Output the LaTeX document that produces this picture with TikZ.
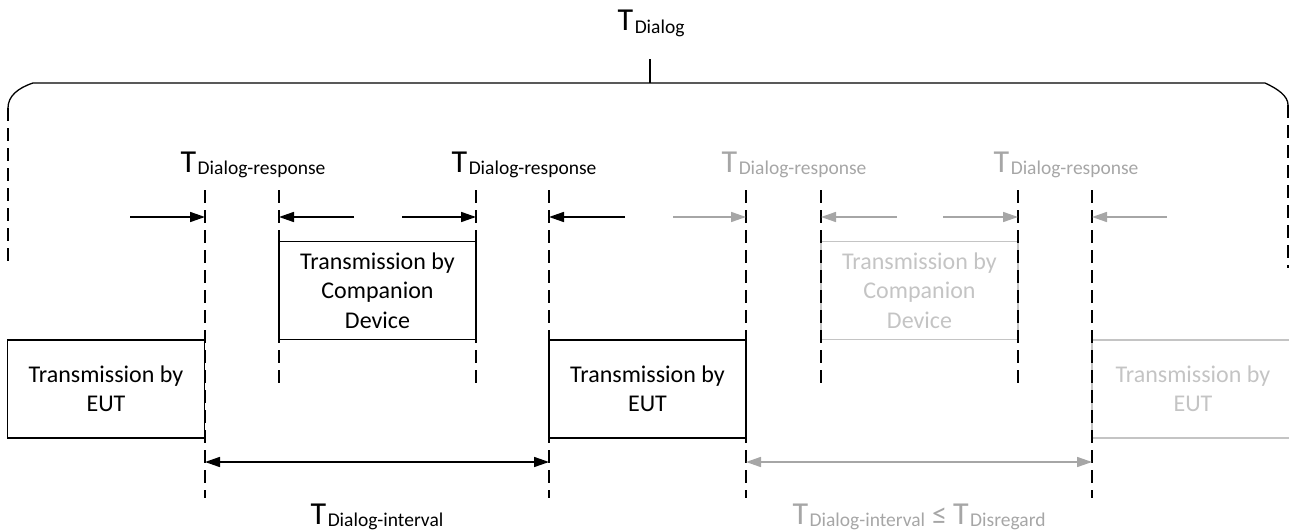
\documentclass[tikz,border=0pt]{standalone}
\usepackage{fontspec}
\setmainfont{Carlito}
\usetikzlibrary{arrows.meta}
\definecolor{garrow}{HTML}{A6A6A6}
\definecolor{gtext}{HTML}{C4C4C4}
\definecolor{gline}{HTML}{C4C4C4}
\newcommand\TL[1]{{\fontsize{32}{32}\selectfont T}\kern1.5pt\raisebox{-2.5pt}{\fontsize{19.5}{20}\selectfont #1}}
\begin{document}
\begin{tikzpicture}[x=1pt,y=-1pt,line width=1.3pt,
  txbox/.style={draw, minimum width=197pt, minimum height=98pt, inner sep=0pt, align=center, font=\fontsize{24}{29.5}\selectfont},
  graybox/.style={txbox, draw=gline, text=gtext},
  guide/.style={line width=1.3pt, dash pattern=on 13pt off 7pt},
  dim/.style={line width=1.6pt, -{Triangle[length=15pt,width=10pt]}},
  ddim/.style={line width=1.6pt, {Triangle[length=15pt,width=10pt]}-{Triangle[length=15pt,width=10pt]}},
  lbl/.style={inner sep=0pt},
]
\useasboundingbox (0,0) rectangle (1289,532);
\begin{scope}
\clip (0,0) rectangle (1289,532);
% boxes
\node[txbox] (eut1) at (106,389) {Transmission by\\EUT};
\node[txbox] (cmp1) at (377.5,290.5) {Transmission by\\Companion\\Device};
\node[txbox] (eut2) at (647.5,389) {Transmission by\\EUT};
\node[graybox] (cmp2) at (919.5,290.5) {Transmission by\\Companion\\Device};
\node[graybox, minimum width=202pt] (eut3) at (1193,389) {Transmission by\\EUT};

% brace over the dialog
\coordinate (bl) at (8,268);
\coordinate (blc) at (8,108);
\coordinate (tl) at (33,83);
\coordinate (tr) at (1265,83);
\coordinate (brc) at (1288,105);
\coordinate (br) at (1288,268);
\coordinate (tick) at (650,83);
\coordinate (ticktop) at (650,59);
\draw (blc) .. controls (8,96) and (18,88) .. (tl) -- (tr) .. controls (1278,89) and (1288,96) .. (brc);
\draw[guide] (blc) -- (bl);
\draw[guide] (brc) -- (br);
\draw (tick) -- (ticktop);
\node[lbl, anchor=base west] (tdialog) at (617,31) {\TL{Dialog}};

% guide lines
\coordinate (gAt) at (205,190); \coordinate (gAb) at (205,498);
\coordinate (gBt) at (279,190); \coordinate (gBb) at (279,388);
\coordinate (gCt) at (476,190); \coordinate (gCb) at (476,388);
\coordinate (gDt) at (549,190); \coordinate (gDb) at (549,498);
\coordinate (gEt) at (746,190); \coordinate (gEb) at (746,498);
\coordinate (gFt) at (821,190); \coordinate (gFb) at (821,388);
\coordinate (gGt) at (1018,190); \coordinate (gGb) at (1018,388);
\coordinate (gHt) at (1092,190); \coordinate (gHb) at (1092,498);
\draw[guide] (gAt) -- (gAb);
\draw[guide] (gBt) -- (gBb);
\draw[guide] (gCt) -- (gCb);
\draw[guide] (gDt) -- (gDb);
\draw[guide] (gEt) -- (gEb);
\draw[guide] (gFt) -- (gFb);
\draw[guide] (gGt) -- (gGb);
\draw[guide] (gHt) -- (gHb);

% response arrows
\coordinate (aA) at (205,217); \coordinate (s1) at (130,217);
\coordinate (aB) at (279,217); \coordinate (s2) at (354,217);
\coordinate (aC) at (476,217); \coordinate (s3) at (402,217);
\coordinate (aD) at (549,217); \coordinate (s4) at (625,217);
\coordinate (aE) at (746,217); \coordinate (s5) at (673,217);
\coordinate (aF) at (821,217); \coordinate (s6) at (897,217);
\coordinate (aG) at (1018,217); \coordinate (s7) at (943,217);
\coordinate (aH) at (1092,217); \coordinate (s8) at (1167,217);
\draw[dim] (s1) -- (aA);
\draw[dim] (s2) -- (aB);
\draw[dim] (s3) -- (aC);
\draw[dim] (s4) -- (aD);
\draw[dim, garrow] (s5) -- (aE);
\draw[dim, garrow] (s6) -- (aF);
\draw[dim, garrow] (s7) -- (aG);
\draw[dim, garrow] (s8) -- (aH);

\node[lbl, anchor=base west] (r1) at (180,172) {\TL{Dialog-response}};
\node[lbl, anchor=base west] (r2) at (451,172) {\TL{Dialog-response}};
\node[lbl, anchor=base west, text=garrow] (r3) at (721,172) {\TL{Dialog-response}};
\node[lbl, anchor=base west, text=garrow] (r4) at (993,172) {\TL{Dialog-response}};

% interval arrows
\coordinate (dA) at (205,462); \coordinate (dD) at (549,462);
\coordinate (dE) at (746,462); \coordinate (dH) at (1092,462);
\draw[ddim] (dA) -- (dD);
\draw[ddim, garrow] (dE) -- (dH);
\node[lbl, anchor=base] (i1) at (377,524) {\TL{Dialog-interval}};
\node[lbl, anchor=base, text=garrow] (i2) at (919,524) {\TL{Dialog-interval}\kern7pt{\fontsize{30}{30}\selectfont ≤}\kern6pt\TL{Disregard}};
\end{scope}
\end{tikzpicture}
\end{document}
